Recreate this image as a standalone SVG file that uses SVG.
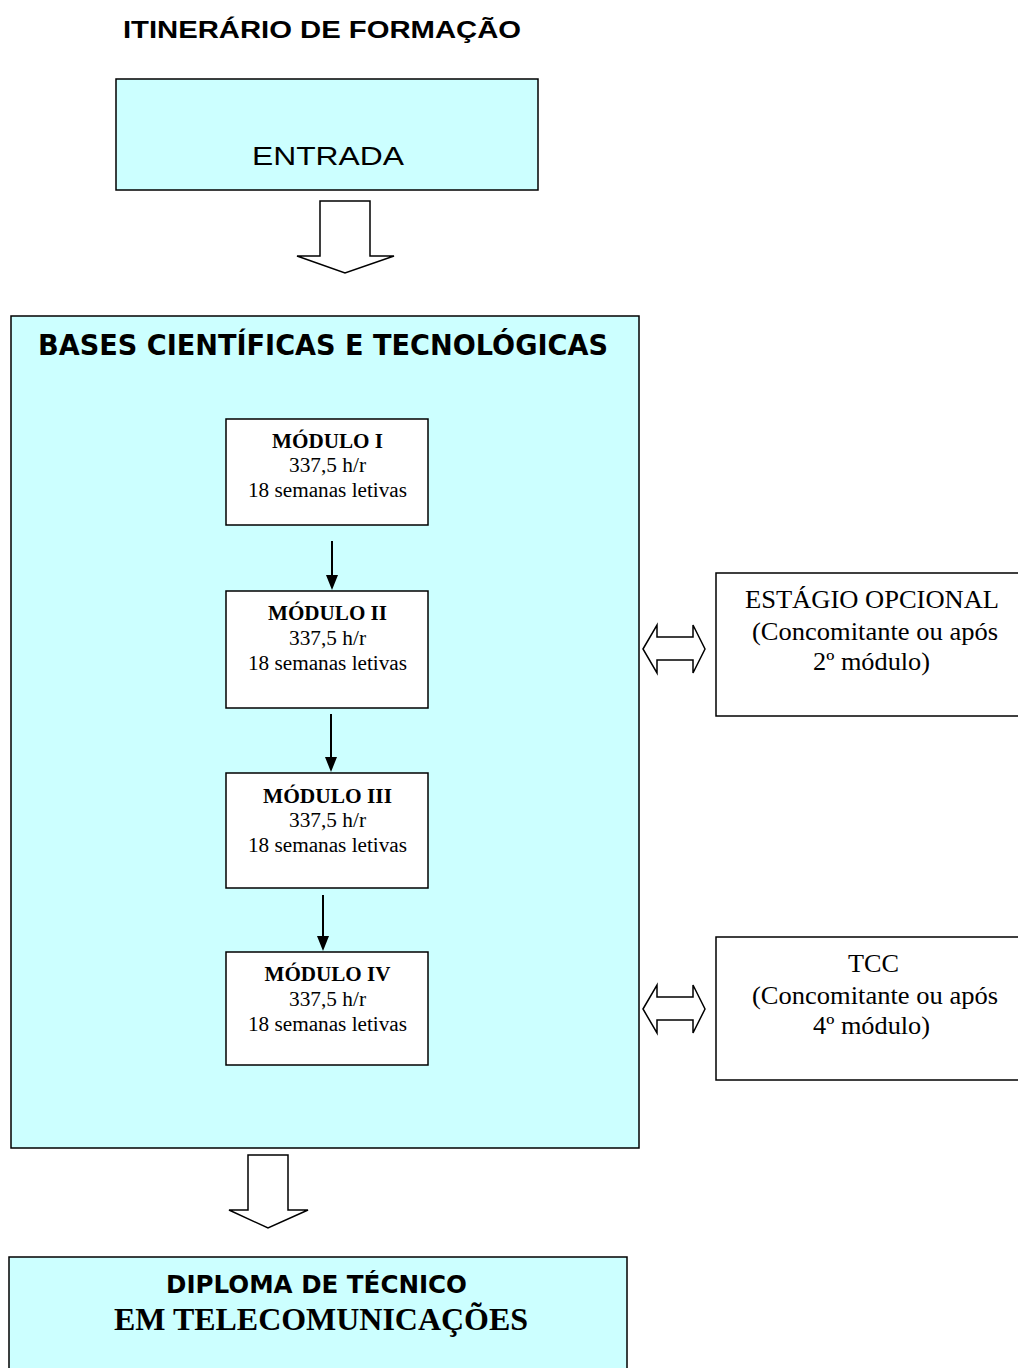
<svg xmlns="http://www.w3.org/2000/svg" width="1018" height="1368" viewBox="0 0 1018 1368">
<style>
.box{stroke:#000;stroke-width:1.5}
.cyan{fill:#CCFFFF}
.white{fill:#fff}
.blk{fill:#fff;stroke:#000;stroke-width:1.5}
.tnr{font-family:"Liberation Serif","Times New Roman",serif;fill:#000}
.ari{font-family:"Liberation Sans",Arial,sans-serif;fill:#000}
.tah{font-family:"DejaVu Sans",Verdana,sans-serif;font-weight:bold;fill:#000}
.conn{stroke:#000;stroke-width:2;fill:none}
.head{fill:#000}
.m{font-size:20px}
.s{font-size:25px}
</style>
<rect width="1018" height="1368" fill="#fff"/>
<text class="ari" x="322" y="38" font-size="24" font-weight="bold" text-anchor="middle" textLength="398" lengthAdjust="spacingAndGlyphs">ITINERÁRIO DE FORMAÇÃO</text>

<g id="entrada">
<rect class="box cyan" x="116" y="79" width="422" height="111"/>
<text class="ari" x="328" y="165" font-size="26" text-anchor="middle" textLength="152" lengthAdjust="spacingAndGlyphs">ENTRADA</text>
</g>

<g id="bases">
<rect class="box cyan" x="11" y="316" width="628" height="832" stroke="#333"/>
<text class="tah" x="323" y="355" font-size="28" text-anchor="middle" textLength="570" lengthAdjust="spacingAndGlyphs">BASES CIENTÍFICAS E TECNOLÓGICAS</text>
</g>

<g id="modulo1">
<rect class="box white" x="226" y="419" width="202" height="106"/>
<text class="tnr m" x="327.5" y="448" font-weight="bold" text-anchor="middle" textLength="111" lengthAdjust="spacingAndGlyphs">MÓDULO I</text>
<text class="tnr m" x="327.5" y="472" text-anchor="middle" textLength="77" lengthAdjust="spacingAndGlyphs">337,5 h/r</text>
<text class="tnr m" x="327.5" y="497" text-anchor="middle" textLength="159" lengthAdjust="spacingAndGlyphs">18 semanas letivas</text>
</g>
<g id="modulo2">
<rect class="box white" x="226" y="591" width="202" height="117"/>
<text class="tnr m" x="327.5" y="620" font-weight="bold" text-anchor="middle" textLength="119" lengthAdjust="spacingAndGlyphs">MÓDULO II</text>
<text class="tnr m" x="327.5" y="645" text-anchor="middle" textLength="77" lengthAdjust="spacingAndGlyphs">337,5 h/r</text>
<text class="tnr m" x="327.5" y="670" text-anchor="middle" textLength="159" lengthAdjust="spacingAndGlyphs">18 semanas letivas</text>
</g>
<g id="modulo3">
<rect class="box white" x="226" y="773" width="202" height="115"/>
<text class="tnr m" x="327.5" y="803" font-weight="bold" text-anchor="middle" textLength="129" lengthAdjust="spacingAndGlyphs">MÓDULO III</text>
<text class="tnr m" x="327.5" y="827" text-anchor="middle" textLength="77" lengthAdjust="spacingAndGlyphs">337,5 h/r</text>
<text class="tnr m" x="327.5" y="852" text-anchor="middle" textLength="159" lengthAdjust="spacingAndGlyphs">18 semanas letivas</text>
</g>
<g id="modulo4">
<rect class="box white" x="226" y="952" width="202" height="113"/>
<text class="tnr m" x="327.5" y="981" font-weight="bold" text-anchor="middle" textLength="126" lengthAdjust="spacingAndGlyphs">MÓDULO IV</text>
<text class="tnr m" x="327.5" y="1006" text-anchor="middle" textLength="77" lengthAdjust="spacingAndGlyphs">337,5 h/r</text>
<text class="tnr m" x="327.5" y="1031" text-anchor="middle" textLength="159" lengthAdjust="spacingAndGlyphs">18 semanas letivas</text>
</g>

<g id="estagio">
<rect class="box white" x="716" y="573" width="310" height="143"/>
<text class="tnr s" x="872" y="608" text-anchor="middle" textLength="254" lengthAdjust="spacingAndGlyphs">ESTÁGIO OPCIONAL</text>
<text class="tnr s" x="875" y="640" text-anchor="middle" textLength="246" lengthAdjust="spacingAndGlyphs">(Concomitante ou após</text>
<text class="tnr s" x="871.5" y="670" text-anchor="middle" textLength="117" lengthAdjust="spacingAndGlyphs">2º módulo)</text>
</g>
<g id="tcc">
<rect class="box white" x="716" y="937" width="310" height="143"/>
<text class="tnr s" x="873.5" y="972" text-anchor="middle" textLength="51" lengthAdjust="spacingAndGlyphs">TCC</text>
<text class="tnr s" x="875" y="1004" text-anchor="middle" textLength="246" lengthAdjust="spacingAndGlyphs">(Concomitante ou após</text>
<text class="tnr s" x="871.5" y="1034" text-anchor="middle" textLength="117" lengthAdjust="spacingAndGlyphs">4º módulo)</text>
</g>

<g id="diploma">
<rect class="box cyan" x="9" y="1257" width="618" height="120" stroke="#333"/>
<text class="tah" x="316.5" y="1293" font-size="24" text-anchor="middle" textLength="301" lengthAdjust="spacingAndGlyphs">DIPLOMA DE TÉCNICO</text>
<text class="tnr" x="321" y="1330" font-size="31" font-weight="bold" text-anchor="middle" textLength="414" lengthAdjust="spacingAndGlyphs">EM TELECOMUNICAÇÕES</text>
</g>

<g id="connectors">
<path class="blk" d="M320,201 H370 V256 H394 L345,273 L297,256 H320 Z"/>
<path class="blk" d="M248,1155 H288 V1210 H308 L268,1228 L229,1210 H248 Z"/>
<line class="conn" x1="332" y1="541" x2="332" y2="577"/>
<path class="head" d="M326,575 H338 L332,590 Z"/>
<line class="conn" x1="331" y1="714" x2="331" y2="759"/>
<path class="head" d="M325,757 H337 L331,772 Z"/>
<line class="conn" x1="323" y1="895" x2="323" y2="938"/>
<path class="head" d="M317,936 H329 L323,951 Z"/>
<path class="blk" stroke-width="1.3" d="M643,649 L657,625 V637 H693 V625 L705,649 L693,673 V660 H657 V673 Z"/>
<path class="blk" stroke-width="1.3" d="M643,1009 L657,985 V997 H693 V985 L705,1009 L693,1033 V1020 H657 V1033 Z"/>
</g>
</svg>
